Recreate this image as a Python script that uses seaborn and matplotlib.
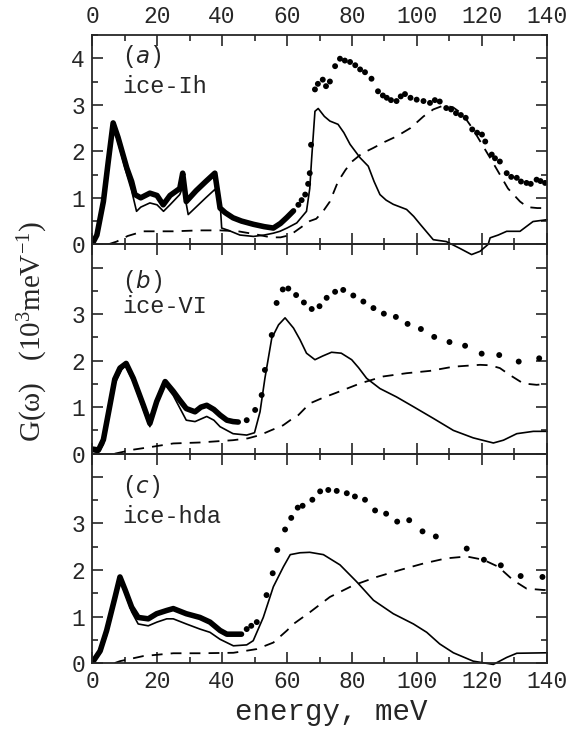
import seaborn as sns
import pandas as pd
import matplotlib.pyplot as plt
from matplotlib.ticker import MultipleLocator

# ---- panel (a) ice-Ih ----
a_dense_E = [0, 1.5, 3.5, 5, 6.5, 8, 10.7, 12.2, 13.2, 15, 17.8, 20, 21.9, 24, 27, 27.9, 29, 32, 35, 37.8,
             39.4, 41, 43.4, 46, 49.7, 53, 55.8, 58, 60, 62]
a_dense_G = [0, 0.2, 0.92, 1.78, 2.61, 2.3, 1.64, 1.35, 1.07, 1.0, 1.1, 1.05, 0.85, 1.05, 1.2, 1.53, 0.92, 1.15, 1.35, 1.53,
             0.78, 0.68, 0.57, 0.5, 0.43, 0.38, 0.35, 0.45, 0.58, 0.72]
a_dot_E = [63.5, 64.5, 65.6, 66.5, 67, 67.4, 68.6, 69.5, 71, 72, 73.2, 74.8, 76.3, 77.8, 79.4, 81, 82.5, 84, 86, 88,
           89.5, 90.7, 92, 93.7, 95, 96.3, 98, 99.9, 102, 104, 105.5, 107, 109, 110.5, 112, 113.5, 115, 117, 118.5, 120,
           121, 123, 124, 125.5, 127.6, 129, 130.7, 132, 133.7, 135, 136.8, 138, 139.4]
a_dot_G = [0.85, 0.95, 1.07, 1.3, 1.53, 2.14, 3.33, 3.45, 3.54, 3.4, 3.5, 3.83, 3.99, 3.95, 3.92, 3.85, 3.76, 3.7, 3.56, 3.29,
           3.2, 3.15, 3.1, 3.08, 3.18, 3.23, 3.15, 3.11, 3.08, 3.04, 3.1, 3.07, 2.93, 2.9, 2.82, 2.78, 2.72, 2.47, 2.4, 2.36,
           2.21, 1.93, 1.85, 1.78, 1.53, 1.45, 1.43, 1.35, 1.32, 1.3, 1.39, 1.36, 1.32]
a_calc_E = [0, 1.5, 3.5, 5, 6.5, 8, 10.7, 12.2, 13.7, 15, 17.8, 20, 22, 24, 27, 28, 29.6, 32, 35, 37.8, 39.4, 39.9,
            42, 45.5, 49.7, 53, 55.8, 57.8, 60, 63, 66, 67, 67.6, 68.6, 69.6, 71.5, 73.2, 75.7, 77.5, 79.4, 82.5, 85,
            86.8, 88.6, 90.5, 92.7, 96.8, 99, 101, 105, 109, 113, 116.8, 119.4, 121.9, 122.5, 125, 127.6, 131.7,
            135.7, 140]
a_calc_G = [0, 0.15, 0.8, 1.7, 2.55, 2.2, 1.5, 1.15, 0.71, 0.8, 0.89, 0.85, 0.71, 0.85, 1.07, 1.25, 0.64, 0.8, 1.0, 1.18, 0.92, 0.35,
            0.3, 0.2, 0.17, 0.2, 0.24, 0.28, 0.35, 0.46, 0.71, 1.2, 1.86, 2.86, 2.92, 2.75, 2.65, 2.58, 2.4, 2.15, 1.86, 1.68,
            1.35, 1.07, 0.95, 0.86, 0.75, 0.6, 0.43, 0.1, 0.06, -0.08, -0.22, -0.15, 0.0, 0.14, 0.2, 0.28, 0.28,
            0.49, 0.53]
a_mult_E = [5, 7.6, 11, 15.8, 25, 33, 39.5, 45, 50, 55, 58, 61, 64, 67, 69, 71, 73.2, 75.7, 78, 80, 83, 86.5, 90, 93.7,
            98, 102, 105, 108, 111, 114, 117, 120, 123, 125.5, 128, 131.7, 134, 137, 140]
a_mult_G = [0.0, 0.06, 0.18, 0.28, 0.28, 0.3, 0.3, 0.28, 0.22, 0.15, 0.15, 0.2, 0.35, 0.5, 0.55, 0.7, 0.92, 1.35, 1.6, 1.78,
            1.95, 2.07, 2.2, 2.32, 2.5, 2.75, 2.9, 2.98, 2.95, 2.8, 2.5, 2.15, 1.8, 1.5, 1.2, 0.92, 0.8, 0.78, 0.78]

# ---- panel (b) ice-VI ----
b_dense_E = [0, 2, 3.5, 5.5, 7, 8.6, 10.5, 12.7, 15.8, 17.8, 19.9, 22.5, 25, 27, 29, 31.7, 33.5, 35.3, 37.5, 39.4,
             41.5, 43.4, 45]
b_dense_G = [0.1, 0.08, 0.3, 1.04, 1.6, 1.84, 1.94, 1.62, 1.04, 0.65, 1.12, 1.55, 1.34, 1.15, 0.97, 0.9, 1.0, 1.04, 0.95, 0.83,
             0.72, 0.69, 0.68]
b_dot_E = [47.6, 50.2, 52.2, 53.2, 55.3, 56.8, 58.7, 60.4, 62.8, 65.2, 67.6, 70, 72.2, 74.8, 77.3, 80.4, 83.5, 86.6,
           89.8, 93.5, 97.1, 101.2, 105.3, 110, 114.8, 119.9, 125.3, 131.3, 137.6]
b_dot_G = [0.72, 0.94, 1.26, 1.8, 2.55, 3.24, 3.53, 3.55, 3.41, 3.25, 3.11, 3.17, 3.35, 3.48, 3.52, 3.4, 3.27, 3.13,
           3.01, 2.94, 2.79, 2.68, 2.51, 2.4, 2.32, 2.15, 2.12, 1.98, 2.05]
b_calc_E = [0, 2, 3.5, 5.5, 7, 9.1, 10.2, 12.7, 15.8, 17.8, 20, 22.5, 25, 29, 31.7, 35.3, 37.5, 39.4, 43.4, 47.6, 50,
            51.7, 53.2, 55.3, 57.4, 59.4, 62, 64, 66, 68.6, 71, 73.7, 76.7, 79.9, 82, 84.5, 88.6, 93.7, 98.9, 105,
            111.2, 117.3, 123.5, 126.6, 130.7, 135.8, 140]
b_calc_G = [0, 0.03, 0.2, 0.95, 1.5, 1.8, 1.9, 1.55, 0.95, 0.58, 1.1, 1.48, 1.25, 0.72, 0.69, 0.8, 0.72, 0.58, 0.43, 0.4, 0.45,
            0.9, 1.62, 2.48, 2.77, 2.92, 2.7, 2.45, 2.16, 2.02, 2.1, 2.18, 2.16, 2.02, 1.85, 1.62, 1.4, 1.22, 1.01, 0.76,
            0.5, 0.34, 0.23, 0.29, 0.43, 0.48, 0.48]
b_mult_E = [7, 9.6, 13, 17.8, 25, 33, 43.4, 48, 51.7, 55, 58.8, 61, 63.5, 67, 71, 74.8, 82.5, 89.6, 96.8, 104, 111.2,
            119.4, 122.5, 125.5, 128.6, 132.7, 136.8, 140]
b_mult_G = [0.0, 0.04, 0.09, 0.14, 0.22, 0.24, 0.29, 0.33, 0.4, 0.5, 0.61, 0.72, 0.83, 1.08, 1.2, 1.3, 1.51, 1.66, 1.73, 1.78,
            1.87, 1.91, 1.9, 1.84, 1.69, 1.51, 1.48, 1.5]

# ---- panel (c) ice-hda ----
c_dense_E = [0, 2.5, 4.5, 7.1, 8.6, 10.2, 12.2, 14.2, 17.3, 19.9, 23, 25, 29, 33.2, 36.3, 39.4, 41.5, 43.5, 46]
c_dense_G = [0, 0.26, 0.7, 1.42, 1.85, 1.57, 1.2, 0.98, 0.95, 1.06, 1.13, 1.17, 1.06, 0.98, 0.88, 0.7, 0.62, 0.62, 0.62]
c_dot_E = [47.6, 49, 50.7, 53.7, 55.6, 57, 59.4, 61.3, 63.3, 64.8, 67.8, 70.2, 72.7, 75.3, 78.4, 80.9, 84, 87.1, 90.5,
           93.9, 97.6, 101.7, 105.8, 115.3, 120.6, 125.8, 131.9, 138.6]
c_dot_G = [0.73, 0.8, 0.88, 1.46, 1.93, 2.43, 2.87, 3.12, 3.34, 3.38, 3.51, 3.69, 3.72, 3.7, 3.65, 3.58, 3.51, 3.28, 3.21,
           3.04, 3.07, 2.83, 2.72, 2.46, 2.22, 2.1, 1.87, 1.85]
c_calc_E = [0, 2.5, 4.5, 7.1, 8.6, 10.2, 12.2, 14.2, 17.3, 20, 23, 25, 29, 33.2, 36.3, 39.4, 43.5, 47.6, 49.6, 52.7,
            55.8, 58.9, 61, 64, 67, 71.2, 76.3, 81.4, 86.6, 92.7, 98.9, 103, 107, 111.2, 117.3, 123.5, 127.6, 130.7, 140]
c_calc_G = [0, 0.2, 0.6, 1.35, 1.8, 1.5, 1.1, 0.84, 0.8, 0.88, 0.95, 0.95, 0.84, 0.73, 0.66, 0.51, 0.37, 0.39, 0.48, 0.98,
            1.64, 2.07, 2.33, 2.37, 2.38, 2.33, 2.11, 1.75, 1.35, 1.06, 0.84, 0.66, 0.41, 0.22, 0.04, -0.03, 0.12, 0.21, 0.22]
c_mult_E = [7, 8.6, 15.8, 25, 33.2, 43.5, 50.7, 55.8, 60, 62, 67, 73.2, 80.4, 87.6, 94.8, 102, 109, 115.3, 120.4, 125,
            129.6, 133.7, 138.9, 140]
c_mult_G = [0.0, 0.04, 0.15, 0.21, 0.21, 0.22, 0.3, 0.44, 0.7, 0.84, 1.09, 1.42, 1.67, 1.85, 2.0, 2.14, 2.25, 2.29, 2.22,
            2.07, 1.78, 1.6, 1.57, 1.57]

panel_tags = [r"($\it{a}$)", r"($\it{b}$)", r"($\it{c}$)"]
panel_names = ["ice-Ih", "ice-VI", "ice-hda"]
x_ticks = [0, 20, 40, 60, 80, 100, 120, 140]

panels = [
    (a_dense_E, a_dense_G, a_dot_E, a_dot_G, a_calc_E, a_calc_G, a_mult_E, a_mult_G),
    (b_dense_E, b_dense_G, b_dot_E, b_dot_G, b_calc_E, b_calc_G, b_mult_E, b_mult_G),
    (c_dense_E, c_dense_G, c_dot_E, c_dot_G, c_calc_E, c_calc_G, c_mult_E, c_mult_G),
]
# label positions (axes fraction) for tag and name in each panel
tag_y = [0.895, 0.824, 0.843]
name_y = [0.752, 0.705, 0.70]

sns.set_style("ticks")
plt.rcParams['font.family'] = ['Liberation Mono', 'DejaVu Sans Mono']
plt.rcParams['mathtext.default'] = 'regular'
plt.rcParams['font.size'] = 16

fig, axes = plt.subplots(3, 1, figsize=(5.68, 7.29), dpi=100, sharex=True)
fig.subplots_adjust(left=0.162, right=0.963, bottom=0.0905, top=0.952, hspace=0)

for i, ax in enumerate(axes):
    dE, dG, pE, pG, cE, cG, mE, mG = panels[i]
    ax.set_facecolor("none")
    sns.lineplot(x=dE, y=dG, ax=ax, color="black", lw=4, sort=False)
    sns.scatterplot(x=pE, y=pG, ax=ax, color="black", s=18, edgecolor="none")
    sns.lineplot(x=cE, y=cG, ax=ax, color="black", lw=1.2, sort=False)
    sns.lineplot(x=mE, y=mG, ax=ax, color="black", lw=1.3, sort=False)
    ax.lines[-1].set_dashes((6, 4.5))
    ax.lines[-2].set_clip_on(False)
    ax.set_xlim(0, 140)
    ax.set_ylim(0, 4.5)
    ax.xaxis.set_minor_locator(MultipleLocator(10))
    ax.yaxis.set_minor_locator(MultipleLocator(0.5))
    ax.tick_params(which="both", direction="in", top=True, right=True, width=1.2, labelsize=16.5, pad=5)
    ax.tick_params(which="major", length=8)
    ax.tick_params(which="minor", length=4)
    if i == 0:
        ax.tick_params(labeltop=True, labelbottom=False)
        ax.set_yticks([0, 1, 2, 3, 4])
    else:
        ax.set_yticks([0, 1, 2, 3, 4], ["0", "1", "2", "3", ""])
    ax.set_xticks(x_ticks)
    for sp in ax.spines.values():
        sp.set_linewidth(1.3)
    ax.text(0.066, tag_y[i], panel_tags[i], transform=ax.transAxes, fontsize=16.5, va="center")
    ax.text(0.066, name_y[i], panel_names[i], transform=ax.transAxes, fontsize=17, va="center")

axes[0].set_zorder(3)
axes[1].set_zorder(2)
axes[2].tick_params(labelbottom=True)
fig.text(0.583, 0.023, "energy, meV", ha="center", va="center", fontsize=21)
fig.text(0.058, 0.545, "G(ω)   (10$^3$meV$^{-1}$)", rotation=90, ha="center", va="center",
         fontsize=21, family=["Liberation Serif", "DejaVu Serif"])

plt.savefig("out.png", dpi=100)
